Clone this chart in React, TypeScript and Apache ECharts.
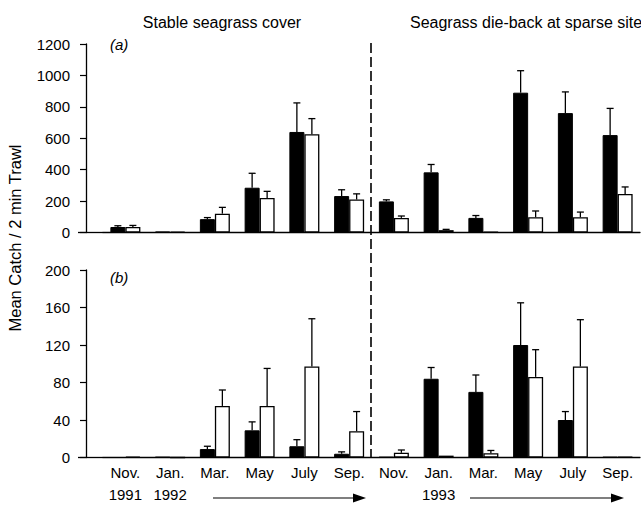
import React, { useEffect, useRef } from "react";
import * as echarts from "echarts";

const months = ["Nov.", "Jan.", "Mar.", "May", "July", "Sep.", "Nov.", "Jan.", "Mar.", "May", "July", "Sep."];
const years = ["1991", "1992", "", "", "", "", "", "1993", "", "", "", ""];
const categories = months.map((m, i) => (years[i] ? m + "\n" + years[i] : m));

// Panel (a)
const aBlack = [35, 5, 85, 285, 640, 232, 198, 383, 93, 890, 760, 620];
const aBlackErr = [8, 0, 10, 92, 185, 40, 10, 50, 15, 140, 135, 170];
const aWhite = [35, 5, 120, 220, 625, 210, 93, 15, 3, 97, 97, 245];
const aWhiteErr = [10, 0, 40, 42, 100, 36, 12, 5, 0, 40, 33, 45];

// Panel (b)
const bBlack = [0, 0.5, 9, 29, 12, 4, 0.5, 84, 70, 120, 40, 0.5];
const bBlackErr = [0, 0, 3, 9, 7, 2, 0, 12, 18, 45, 9, 0];
const bWhite = [1, 0, 55, 55, 97, 28, 5, 2, 4.5, 86, 97, 0.5];
const bWhiteErr = [0, 0, 17, 40, 51, 21, 3, 0, 3, 29, 50, 0];

const yTicksA = { min: 0, max: 1200, interval: 200 };
const yTicksB = { min: 0, max: 200, interval: 40 };

const FONT = "Liberation Sans";
const BAR_W = 15;

function errData(black: number[], blackErr: number[], white: number[], whiteErr: number[]) {
  const out: number[][] = [];
  black.forEach((v, i) => {
    if (blackErr[i] > 0) out.push([i, 0, v, blackErr[i]]);
  });
  white.forEach((v, i) => {
    if (whiteErr[i] > 0) out.push([i, 1, v, whiteErr[i]]);
  });
  return out;
}

const renderErr = (params: any, api: any) => {
  const cat = api.value(0);
  const side = api.value(1);
  const v = api.value(2);
  const e = api.value(3);
  const p0 = api.coord([cat, v]);
  const p1 = api.coord([cat, v + e]);
  const x = p0[0] + (side === 0 ? -BAR_W / 2 : BAR_W / 2);
  const style = { stroke: "#000", lineWidth: 1.3 };
  return {
    type: "group",
    children: [
      { type: "line", shape: { x1: x, y1: p0[1], x2: x, y2: p1[1] }, style },
      { type: "line", shape: { x1: x - 3.5, y1: p1[1], x2: x + 3.5, y2: p1[1] }, style },
    ],
  };
};

export default function App() {
  const ref = useRef<HTMLDivElement>(null);
  useEffect(() => {
    if (!ref.current) return;
    const chart = echarts.init(ref.current, null, { renderer: "svg" });
    const axisLineStyle = { color: "#000", width: 1.3 };
    const xAxisBase = {
      type: "category",
      data: categories,
      axisLine: { lineStyle: axisLineStyle },
      axisTick: { alignWithLabel: true, length: 5, lineStyle: { color: "#000", width: 1.2 } },
      splitLine: { show: false },
    };
    const yAxisBase = {
      type: "value",
      offset: 17,
      axisLine: { show: true, lineStyle: axisLineStyle },
      axisTick: { show: true, length: 6, lineStyle: { color: "#000", width: 1.2 } },
      splitLine: { show: false },
      axisLabel: {
        color: "#000",
        fontSize: 15,
        fontFamily: FONT,
        margin: 16,
        formatter: (v: number) => String(v),
      },
    };
    const barBlack = { color: "#000", borderColor: "#000", borderWidth: 1 };
    const barWhite = { color: "#fff", borderColor: "#000", borderWidth: 1.3 };
    const textStyle = { fill: "#000", fontFamily: FONT, fontSize: 15 };

    chart.setOption({
      animation: false,
      backgroundColor: "#fff",
      textStyle: { fontFamily: FONT },
      grid: [
        { left: 103, top: 44, width: 537, height: 188.5 },
        { left: 103, top: 270, width: 537, height: 187.5 },
      ],
      xAxis: [
        { ...xAxisBase, gridIndex: 0, axisLabel: { show: false } },
        {
          ...xAxisBase,
          gridIndex: 1,
          axisLabel: { color: "#000", fontSize: 15, fontFamily: FONT, lineHeight: 22, margin: 4, interval: 0 },
        },
      ],
      yAxis: [
        { ...yAxisBase, gridIndex: 0, ...yTicksA },
        { ...yAxisBase, gridIndex: 1, ...yTicksB },
      ],
      series: [
        { type: "bar", xAxisIndex: 0, yAxisIndex: 0, data: aBlack, barWidth: BAR_W, barGap: "0%", itemStyle: barBlack },
        { type: "bar", xAxisIndex: 0, yAxisIndex: 0, data: aWhite, barWidth: BAR_W, barGap: "0%", itemStyle: barWhite },
        { type: "bar", xAxisIndex: 1, yAxisIndex: 1, data: bBlack, barWidth: BAR_W, barGap: "0%", itemStyle: barBlack },
        { type: "bar", xAxisIndex: 1, yAxisIndex: 1, data: bWhite, barWidth: BAR_W, barGap: "0%", itemStyle: barWhite },
        {
          type: "custom",
          xAxisIndex: 0,
          yAxisIndex: 0,
          z: 5,
          renderItem: renderErr,
          data: errData(aBlack, aBlackErr, aWhite, aWhiteErr),
        },
        {
          type: "custom",
          xAxisIndex: 1,
          yAxisIndex: 1,
          z: 5,
          renderItem: renderErr,
          data: errData(bBlack, bBlackErr, bWhite, bWhiteErr),
        },
      ],
      graphic: [
        { type: "line", shape: { x1: 78, y1: 232.5, x2: 103, y2: 232.5 }, style: { stroke: "#000", lineWidth: 1.3 } },
        { type: "line", shape: { x1: 78, y1: 457.5, x2: 103, y2: 457.5 }, style: { stroke: "#000", lineWidth: 1.3 } },
        {
          type: "line",
          z: 10,
          shape: { x1: 371, y1: 43, x2: 371, y2: 458 },
          style: { stroke: "#000", lineWidth: 1.6, lineDash: [10, 4] },
        },
        {
          type: "text",
          x: 222,
          y: 22,
          style: { ...textStyle, fontSize: 16, text: "Stable seagrass cover", align: "center", verticalAlign: "middle" },
        },
        {
          type: "text",
          x: 410,
          y: 22,
          style: { ...textStyle, fontSize: 16, text: "Seagrass die-back at sparse site", align: "left", verticalAlign: "middle" },
        },
        {
          type: "text",
          x: 110,
          y: 44,
          style: { ...textStyle, text: "(a)", fontStyle: "italic", align: "left", verticalAlign: "middle" },
        },
        {
          type: "text",
          x: 110,
          y: 277,
          style: { ...textStyle, text: "(b)", fontStyle: "italic", align: "left", verticalAlign: "middle" },
        },
        {
          type: "text",
          x: 15,
          y: 238,
          rotation: Math.PI / 2,
          style: { ...textStyle, fontSize: 16.5, text: "Mean Catch / 2 min Trawl", align: "center", verticalAlign: "middle" },
        },
        { type: "line", shape: { x1: 213, y1: 498, x2: 355, y2: 498 }, style: { stroke: "#000", lineWidth: 1.2 } },
        { type: "polygon", shape: { points: [[353, 493.5], [366, 498], [353, 502.5]] }, style: { fill: "#000" } },
        { type: "line", shape: { x1: 470, y1: 498, x2: 613, y2: 498 }, style: { stroke: "#000", lineWidth: 1.2 } },
        { type: "polygon", shape: { points: [[611, 493.5], [624, 498], [611, 502.5]] }, style: { fill: "#000" } },
      ],
    });
    return () => chart.dispose();
  }, []);
  return (
    <div
      ref={ref}
      style={{ position: "fixed", left: 0, top: 0, width: 641, height: 506, background: "#fff" }}
    />
  );
}
